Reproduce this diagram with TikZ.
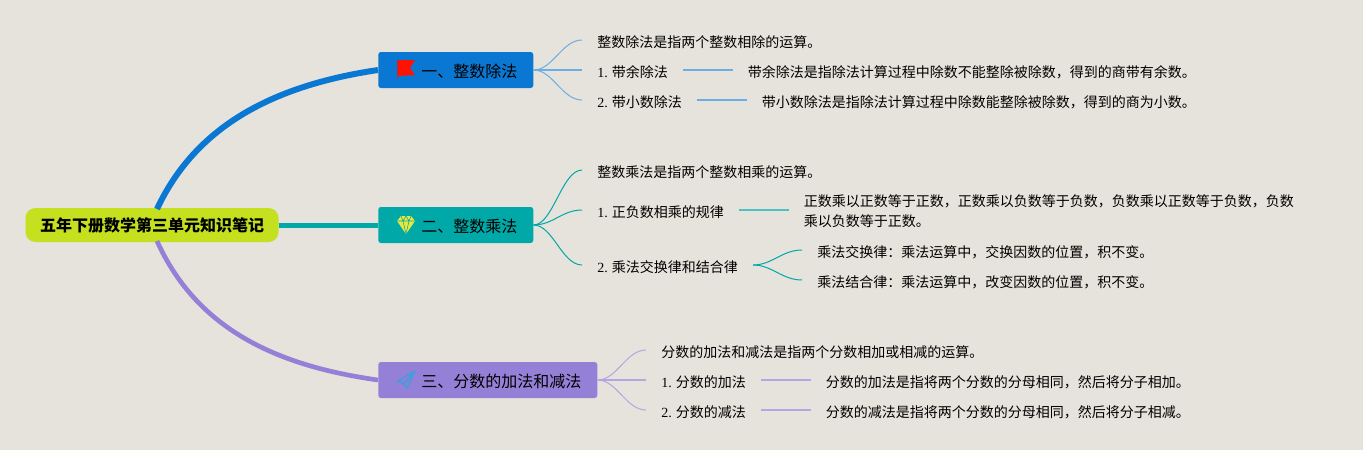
\documentclass[tikz,border=0pt]{standalone}
\usepackage{fontspec}
\setmainfont{Liberation Serif}
\newfontfamily\cjk{Noto Sans CJK SC}
\usetikzlibrary{positioning}
\definecolor{bgpaper}{RGB}{229,227,219}
\definecolor{rootgreen}{RGB}{196,224,30}
\definecolor{divblue}{RGB}{10,120,210}
\definecolor{multeal}{RGB}{0,168,168}
\definecolor{fracpurple}{RGB}{148,128,214}
\definecolor{gemyellow}{RGB}{232,232,60}
\tikzset{
  rootbox/.style={rectangle,rounded corners=7.5pt,fill=rootgreen,minimum width=189.75pt,
                  minimum height=25.5pt,inner sep=0pt,font=\cjk\bfseries\fontsize{12}{14}\selectfont},
  branchbox/.style={rectangle,rounded corners=2pt,fill=#1,minimum height=27pt,inner sep=0pt,
                    text height=11.5pt,text depth=1pt,font=\cjk\fontsize{12}{14}\selectfont,anchor=west},
  leaf/.style={inner xsep=11.25pt,inner ysep=0pt,text height=10.5pt,text depth=0pt,
               font=\cjk\fontsize{10.5}{15}\selectfont,anchor=west},
  leaftwo/.style={inner xsep=11.25pt,inner ysep=0pt,align=left,yshift=-0.75pt,
               font=\cjk\fontsize{10.5}{15}\selectfont,anchor=west},
  trunk/.style={line width=#1},
  twig/.style={line width=0.75pt,color=#1},
  stem/.style={line width=1.1pt,color=#1},
  flagicon/.pic={
    \fill[red!85!orange] (-9,-8) -- (9,-8) -- (4,0) -- (9,7) -- (-9,8) -- cycle;
    \draw[red!60!divblue,line width=0.7pt] (-8.6,-8) -- (-8.6,11);
  },
  gemicon/.pic={
    \fill[gemyellow] (-9,-4) -- (-5,-9) -- (5,-9) -- (9,-4) -- (0,9) -- cycle;
    \draw[multeal,line width=0.4pt] (-9,-4) -- (9,-4) (-5,-9) -- (-3,-4) -- (0,-9) -- (3,-4) -- (5,-9)
      (-3,-4) -- (0,9) -- (3,-4);
  },
  planeicon/.pic={
    \draw[divblue!75!white,line width=1.2pt,line join=round] (9,-9) -- (-8,1) -- (-2,4) -- (1,8) -- cycle
      (9,-9) -- (-2,4);
  },
}
\newcommand{\lnum}[2]{{\rmfamily #1} #2}
\newcommand{\blabel}[1]{\hspace*{32.25pt}#1\hspace*{12pt}}

\begin{document}
\begin{tikzpicture}[x=0.75pt,y=-0.75pt,node distance=0pt and 37pt]
  \useasboundingbox (0,0) rectangle (1363,450);
  \fill[bgpaper] (0,0) rectangle (1363,450);

  \node[rootbox] (root) at (152,225) {五年下册数学第三单元知识笔记};
  \coordinate (roottop) at (157,209);
  \coordinate (rootbot) at (157,241);

  \node[branchbox=divblue] (div) at (378,70) {\blabel{一、整数除法}};
  \node[branchbox=multeal] (mul) at (378,225) {\blabel{二、整数乘法}};
  \node[branchbox=fracpurple] (frac) at (378,380) {\blabel{三、分数的加法和减法}};

  % 主干
  \draw[trunk=4.5pt,divblue] (roottop) .. controls (195,128) and (270,86) .. (div.west);
  \draw[trunk=3.75pt,multeal] (root.east) -- (mul.west);
  \draw[trunk=3.5pt,fracpurple] (rootbot) .. controls (195,325) and (270,365) .. (frac.west);

  \pic at (406,68) {flagicon};
  \pic at (406,225) {gemicon};
  \pic at (406,380) {planeicon};

  % 整数除法
  \node[leaf] (d0) at (582,40) {整数除法是指两个整数相除的运算。};
  \node[leaf] (d1) at (582,70) {\lnum{1.}{带余除法}};
  \node[leaf,right=of d1] (d1t) {带余除法是指除法计算过程中除数不能整除被除数，得到的商带有余数。};
  \node[leaf] (d2) at (582,100) {\lnum{2.}{带小数除法}};
  \node[leaf,right=of d2] (d2t) {带小数除法是指除法计算过程中除数能整除被除数，得到的商为小数。};

  \draw[twig=divblue!60!white] (div.east) .. controls (553,70) and (562,40) .. (d0.west);
  \draw[stem=divblue!60!white] (div.east) -- (d1.west);
  \draw[twig=divblue!60!white] (div.east) .. controls (553,70) and (562,100) .. (d2.west);
  \draw[stem=divblue!60!white] (d1) -- (d1t);
  \draw[stem=divblue!60!white] (d2) -- (d2t);

  % 整数乘法
  \node[leaf] (m0) at (582,170) {整数乘法是指两个整数相乘的运算。};
  \node[leaf] (m1) at (582,210) {\lnum{1.}{正负数相乘的规律}};
  \node[leaftwo,right=of m1] (m1t) {正数乘以正数等于正数，正数乘以负数等于负数，负数乘以正数等于负数，负数\\乘以负数等于正数。};
  \node[leaf] (m2) at (582,265) {\lnum{2.}{乘法交换律和结合律}};
  \node[leaf] (m2a) at (802,250) {乘法交换律：乘法运算中，交换因数的位置，积不变。};
  \node[leaf] (m2b) at (802,280) {乘法结合律：乘法运算中，改变因数的位置，积不变。};

  \draw[twig=multeal] (mul.east) .. controls (553,225) and (562,170) .. (m0.west);
  \draw[twig=multeal] (mul.east) .. controls (553,225) and (562,210) .. (m1.west);
  \draw[twig=multeal] (mul.east) .. controls (553,225) and (562,265) .. (m2.west);
  \draw[stem=multeal!70!white] (m1) -- (m1 -| m1t.west);
  \draw[twig=multeal] (m2.east) .. controls (772,265) and (782,250) .. (m2a.west);
  \draw[twig=multeal] (m2.east) .. controls (772,265) and (782,280) .. (m2b.west);

  % 分数的加法和减法
  \node[leaf] (f0) at (646,350) {分数的加法和减法是指两个分数相加或相减的运算。};
  \node[leaf] (f1) at (646,380) {\lnum{1.}{分数的加法}};
  \node[leaf,right=of f1] (f1t) {分数的加法是指将两个分数的分母相同，然后将分子相加。};
  \node[leaf] (f2) at (646,410) {\lnum{2.}{分数的减法}};
  \node[leaf,right=of f2] (f2t) {分数的减法是指将两个分数的分母相同，然后将分子相减。};

  \draw[twig=fracpurple!70!white] (frac.east) .. controls (617,380) and (626,350) .. (f0.west);
  \draw[stem=fracpurple!70!white] (frac.east) -- (f1.west);
  \draw[twig=fracpurple!70!white] (frac.east) .. controls (617,380) and (626,410) .. (f2.west);
  \draw[stem=fracpurple!70!white] (f1) -- (f1t);
  \draw[stem=fracpurple!70!white] (f2) -- (f2t);
\end{tikzpicture}
\end{document}
